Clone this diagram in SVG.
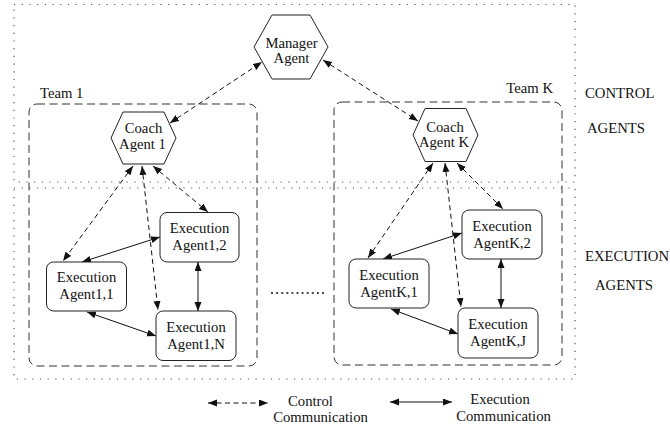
<svg xmlns="http://www.w3.org/2000/svg" width="670" height="428" viewBox="0 0 670 428">
  <style>
    text { font-family: "Liberation Serif", "Times New Roman", serif; font-size: 14.7px; fill: #111; }
    .mid { text-anchor: middle; }
    .region { fill: none; stroke: #555; stroke-width: 1.2; stroke-dasharray: 1.2 6.5; }
    .team { fill: none; stroke: #333; stroke-width: 1; stroke-dasharray: 8 4.5; }
    .hex { fill: #fff; stroke: #222; stroke-width: 1; }
    .exec { fill: #fff; stroke: #222; stroke-width: 1; }
    .ctrl { fill: none; stroke: #111; stroke-width: 1; stroke-dasharray: 5 3.5; marker-start: url(#head); marker-end: url(#head); }
    .msg { fill: none; stroke: #111; stroke-width: 1; marker-start: url(#head); marker-end: url(#head); }
    .gap { stroke: #111; stroke-width: 1.6; stroke-dasharray: 2 3.1; }
  </style>
  <defs>
    <marker id="head" markerUnits="userSpaceOnUse" markerWidth="10" markerHeight="8" refX="9" refY="3.5" orient="auto-start-reverse">
      <path d="M0,0 L9,3.5 L0,7 z" fill="#111"/>
    </marker>
  </defs>

  <!-- agent layers -->
  <g id="layers">
    <rect class="region" x="14" y="4.5" width="561" height="177.5"/>
    <rect class="region" x="14" y="188" width="561" height="191"/>
    <text x="585" y="98">CONTROL</text>
    <text x="587" y="133">AGENTS</text>
    <text x="585" y="261">EXECUTION</text>
    <text x="595" y="290">AGENTS</text>
  </g>

  <!-- teams -->
  <g id="team-1">
    <rect class="team" x="29" y="104" width="228" height="262" rx="8"/>
    <text x="40" y="98">Team 1</text>
  </g>
  <g id="team-k">
    <rect class="team" x="334" y="102" width="228" height="263" rx="8"/>
    <text x="553" y="93" text-anchor="end">Team K</text>
  </g>

  <line class="gap" x1="271" y1="293" x2="327" y2="293"/>

  <!-- connectors -->
  <g id="connectors">
    <line class="ctrl" x1="170" y1="123" x2="262" y2="62"/>
    <line class="ctrl" x1="323" y1="60" x2="418" y2="121"/>
    <line class="ctrl" x1="133" y1="166" x2="63" y2="261"/>
    <line class="ctrl" x1="142" y1="166" x2="158" y2="310"/>
    <line class="ctrl" x1="153" y1="166" x2="208" y2="212"/>
    <line class="ctrl" x1="433" y1="163" x2="368" y2="258"/>
    <line class="ctrl" x1="445" y1="163" x2="461" y2="307"/>
    <line class="ctrl" x1="457" y1="163" x2="503" y2="209"/>

    <line class="msg" x1="82" y1="262" x2="160" y2="237"/>
    <line class="msg" x1="198" y1="262" x2="198" y2="311"/>
    <line class="msg" x1="87" y1="312" x2="156" y2="336"/>
    <line class="msg" x1="383" y1="259" x2="462" y2="233"/>
    <line class="msg" x1="501" y1="259" x2="501" y2="308"/>
    <line class="msg" x1="391" y1="309" x2="458" y2="334"/>
  </g>

  <!-- nodes -->
  <g id="manager">
    <polygon class="hex" points="254,47 272,15 310,15 328,47 310,79 272,79"/>
    <text class="mid" x="291.5" y="48">Manager</text>
    <text class="mid" x="291.5" y="63">Agent</text>
  </g>
  <g id="coach-1">
    <polygon class="hex" points="111,138 123,112 164,112 176,138 164,164 123,164"/>
    <text class="mid" x="143.5" y="133">Coach</text>
    <text class="mid" x="142.5" y="149">Agent 1</text>
  </g>
  <g id="coach-k">
    <polygon class="hex" points="413,135 425,108.5 466,108.5 478,135 466,161.5 425,161.5"/>
    <text class="mid" x="445" y="131.5">Coach</text>
    <text class="mid" x="444" y="146.5">Agent K</text>
  </g>

  <g id="exec-1-2">
    <rect class="exec" x="160" y="212.5" width="79" height="49.5" rx="7"/>
    <text class="mid" x="199.5" y="233">Execution</text>
    <text class="mid" x="199.5" y="250">Agent1,2</text>
  </g>
  <g id="exec-1-1">
    <rect class="exec" x="46.5" y="262" width="80" height="49" rx="7"/>
    <text class="mid" x="86.5" y="282">Execution</text>
    <text class="mid" x="86.5" y="299">Agent1,1</text>
  </g>
  <g id="exec-1-n">
    <rect class="exec" x="156" y="311" width="80" height="49.5" rx="7"/>
    <text class="mid" x="196" y="331.5">Execution</text>
    <text class="mid" x="196" y="348.5">Agent1,N</text>
  </g>

  <g id="exec-k-2">
    <rect class="exec" x="462" y="210" width="80" height="49" rx="7"/>
    <text class="mid" x="502" y="230.5">Execution</text>
    <text class="mid" x="502" y="247.5">AgentK,2</text>
  </g>
  <g id="exec-k-1">
    <rect class="exec" x="349" y="259" width="80" height="49" rx="7"/>
    <text class="mid" x="389" y="279.5">Execution</text>
    <text class="mid" x="389" y="296.5">AgentK,1</text>
  </g>
  <g id="exec-k-j">
    <rect class="exec" x="458" y="308" width="80" height="50" rx="7"/>
    <text class="mid" x="498" y="328.5">Execution</text>
    <text class="mid" x="498" y="345.5">AgentK,J</text>
  </g>

  <!-- legend -->
  <g id="legend">
    <line class="ctrl" x1="208" y1="403" x2="268" y2="403"/>
    <text class="mid" x="310.5" y="406">Control</text>
    <text class="mid" x="320.5" y="422">Communication</text>
    <line class="msg" x1="390" y1="402" x2="452" y2="402"/>
    <text class="mid" x="500" y="404">Execution</text>
    <text class="mid" x="503.5" y="421">Communication</text>
  </g>
</svg>
